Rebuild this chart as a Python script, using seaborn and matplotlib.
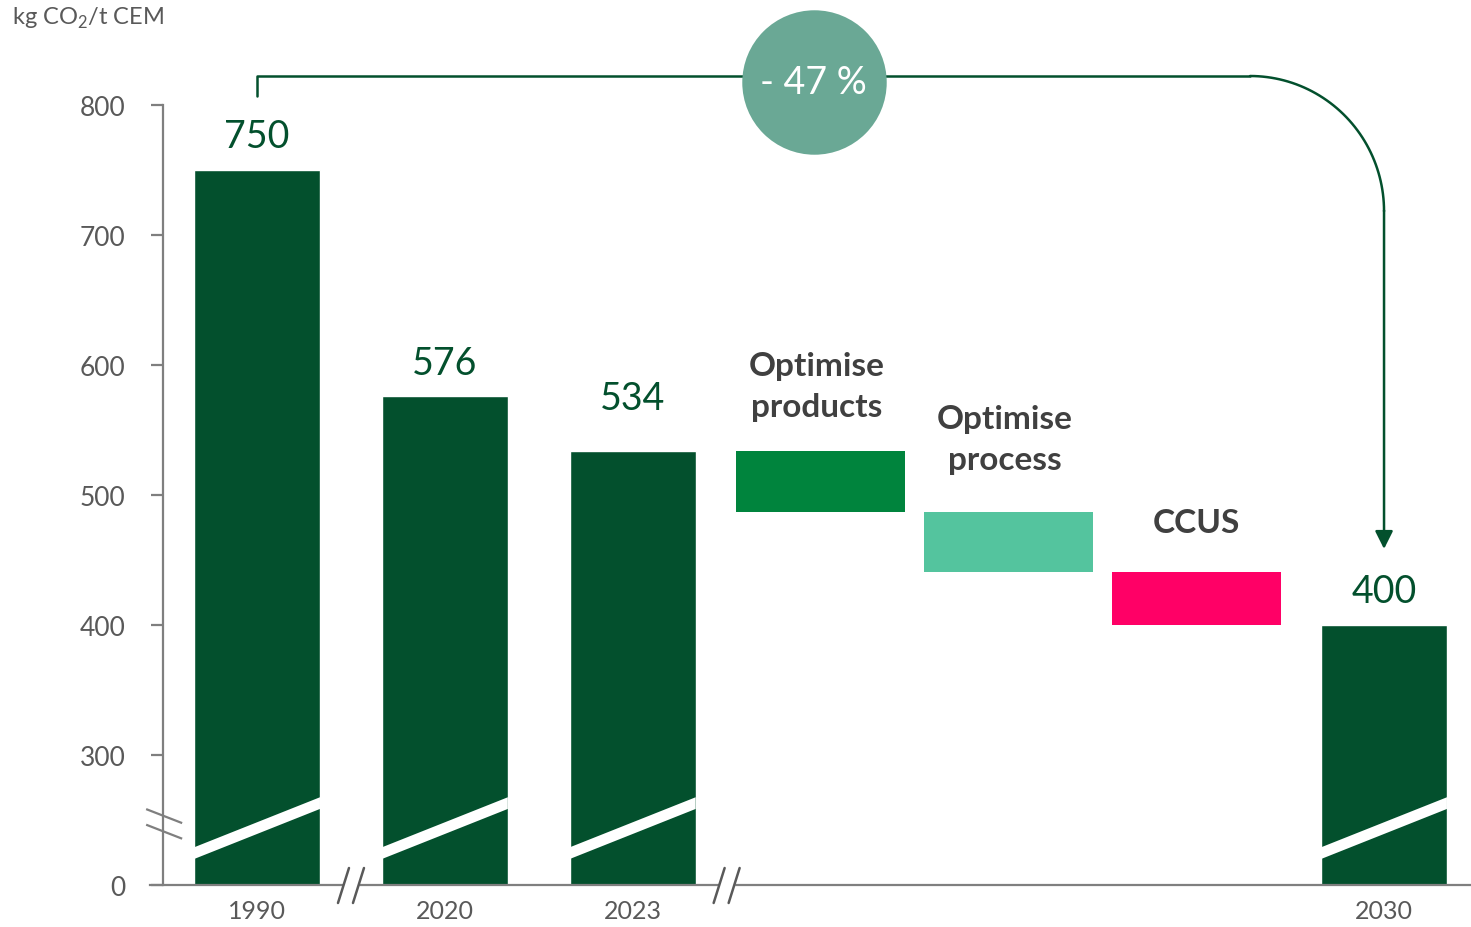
import numpy as np
import pandas as pd
import matplotlib
matplotlib.use("Agg")
import matplotlib.pyplot as plt
import matplotlib.patches as mpatches
import seaborn as sns

# data (kg CO2 / t cement)
years = ["1990", "2020", "2023", "2030"]
totals = [750, 576, 534, 400]
levers = ["Optimise\nproducts", "Optimise\nprocess", "CCUS"]
lever_cuts = [47, 46, 41]
lever_colors = ["#00843D", "#54C49E", "#FF0066"]

DARK = "#03502D"
GREY = "#7F7F7F"
TXT = "#595959"
AXIS_ZERO = 200  # broken axis: "0" sits at 200 on the drawn scale

sns.set_theme(style="white")
plt.rcParams["font.family"] = ["Lato", "DejaVu Sans"]

order = years[:3] + ["s1", "s2", "s3"] + years[3:]
df = pd.DataFrame({"cat": years, "val": totals})

fig = plt.figure(figsize=(14.71, 9.28), dpi=100)
ax = fig.add_axes([150 / 1471, 42 / 928, 1321 / 1471, 884 / 928])

sns.barplot(data=df, x="cat", y="val", order=order, color=DARK,
            saturation=1, width=0.67, ax=ax)

# waterfall steps
start = totals[2]
tops = []
for i, (cut, col) in enumerate(zip(lever_cuts, lever_colors)):
    ax.bar(3 + i, cut, bottom=start - cut, width=0.9, color=col, linewidth=0)
    tops.append(start)
    start -= cut

ax.set_xlim(-0.57, 6.463)
ax.set_ylim(AXIS_ZERO, 880)

# white break stripes on total bars
xpos = [0, 1, 2, 6]
for x in xpos:
    xs = [x - 0.335, x + 0.335, x + 0.335, x - 0.335]
    ys = [220, 258.5, 267.5, 229]
    ax.fill(xs, ys, color="white", lw=0, zorder=3)

# value labels
lab_off = [26, 25.5, 41, 26]
for x, v, o in zip(xpos, totals, lab_off):
    ax.text(x, v + o, f"{v}", ha="center", va="center", fontsize=27,
            color=DARK)

# lever labels
lev_off = [50, 56, 38]
lev_dx = [-0.02, -0.02, 0]
for i, (name, t) in enumerate(zip(levers, tops)):
    ax.text(3 + i + lev_dx[i], t + lev_off[i], name, ha="center", va="center",
            fontsize=24, fontweight="bold", color="#404040",
            linespacing=1.5)

# axes styling
for s in ["top", "right"]:
    ax.spines[s].set_visible(False)
ax.spines["left"].set_position(("data", -0.5))
ax.spines["left"].set_bounds(AXIS_ZERO, 800)
for s in ["left", "bottom"]:
    ax.spines[s].set_color(GREY)
    ax.spines[s].set_linewidth(1.6)
ax.set_yticks([200, 300, 400, 500, 600, 700, 800])
ax.set_yticklabels(["0", "300", "400", "500", "600", "700", "800"])
ax.tick_params(axis="y", direction="out", length=9, width=1.6, color=GREY,
               labelsize=19, labelcolor=TXT, pad=18, left=True)
ax.set_xticks(range(7))
ax.set_xticklabels(["1990", "2020", "2023", "", "", "", "2030"])
ax.tick_params(axis="x", length=0, labelsize=18, labelcolor=TXT, pad=10)
ax.set_xlabel("")
ax.set_ylabel("")

fig.text(12 / 1471, 1 - 18 / 928, r"kg CO$_\mathregular{2}$/t CEM",
         fontsize=17, color=TXT, ha="left", va="center")

# axis break marks (y axis)
ppx = 1 / 187.83  # data units per pixel, x
ppy = 1 / 1.3     # data units per pixel, y
for yc in [253, 241]:
    ax.plot([-0.5 - 17 * ppx, -0.5 + 19 * ppx],
            [yc + 7 * ppy, yc - 7 * ppy], color=GREY, lw=1.6,
            clip_on=False, zorder=4, solid_capstyle="butt")

# axis break marks (x axis)
for xb in [0.5, 2.5]:
    ax.add_patch(mpatches.Rectangle((xb - 7 * ppx, AXIS_ZERO - 3 * ppy),
                                    14 * ppx, 6 * ppy, color="white",
                                    clip_on=False, zorder=5))
    for dx in [-7.5, 7.5]:
        ax.plot([xb + (dx - 5.5) * ppx, xb + (dx + 5.5) * ppx],
                [AXIS_ZERO - 18 * ppy, AXIS_ZERO + 17 * ppy], color="#595959",
                lw=1.8, clip_on=False, zorder=6)

# bracket with -47 %
y_top = 822.3
x_turn = 6 - 134 * ppx
ax.plot([0, 0, x_turn], [totals[0] + 57, y_top, y_top], color=DARK, lw=1.8,
        clip_on=False, zorder=4)
t = np.linspace(np.pi / 2, 0, 50)
rx, ry = 6 - x_turn, 104
ax.plot(x_turn + rx * np.cos(t), (y_top - ry) + ry * np.sin(t), color=DARK,
        lw=1.8, clip_on=False, zorder=4)
ax.annotate("", xy=(6, totals[3] + 58.5), xytext=(6, y_top - ry + 0.5),
            arrowprops=dict(arrowstyle="-|>,head_length=0.9,head_width=0.45",
                            color=DARK, lw=1.8, shrinkA=0, shrinkB=0),
            zorder=4)

pct = round((totals[3] - totals[0]) / totals[0] * 100)
cx = 3 - 7 * ppx
cy = y_top - 6 * ppy
ax.plot([cx], [cy], "o", ms=104, color="#6AA895", mec="none", zorder=5,
        clip_on=False)
ax.text(cx, cy, f"- {abs(pct)} %", ha="center", va="center", fontsize=27,
        color="white", zorder=6)

fig.savefig("out.png", dpi=100)
